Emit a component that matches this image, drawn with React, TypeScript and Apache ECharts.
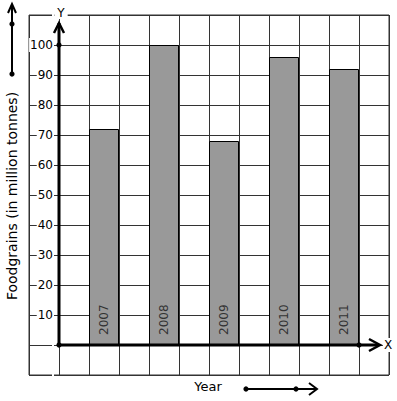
import React, { useEffect, useRef } from 'react';
import * as echarts from 'echarts';

const years = ['2007', '2008', '2009', '2010', '2011'];
const foodgrains = [72, 100, 68, 96, 92];
const yAxisTitle = 'Foodgrains (in million tonnes)';
const xAxisTitle = 'Year';
const yAxisName = 'Y';
const xAxisName = 'X';

const FONT = 'DejaVu Sans';

export default function App() {
  const ref = useRef<HTMLDivElement>(null);

  useEffect(() => {
    const chart = echarts.init(ref.current!, null, { renderer: 'svg' });
    chart.setOption({
      animation: false,
      backgroundColor: '#fff',
      grid: {
        left: 29,
        top: 15,
        width: 360,
        height: 360,
        containLabel: false,
        outerBoundsMode: 'none',
        show: true,
        borderColor: '#333',
        borderWidth: 1,
        backgroundColor: '#fff',
      },
      xAxis: {
        type: 'value',
        min: -1,
        max: 11,
        interval: 1,
        axisLine: { show: false },
        axisTick: { show: false },
        axisLabel: { show: false },
        splitLine: { show: true, lineStyle: { color: '#333', width: 1 } },
      },
      yAxis: {
        type: 'value',
        min: -10,
        max: 110,
        interval: 10,
        offset: -30,
        axisLine: { show: false, onZero: false },
        axisTick: { show: false },
        axisLabel: {
          show: true,
          margin: 5,
          fontFamily: FONT,
          fontSize: 12,
          color: '#000',
          backgroundColor: '#fff',
          padding: [1, 1, 1, 1],
          formatter: (v: number) => (v > 0 && v <= 100 ? String(v) : ''),
        },
        splitLine: { show: true, lineStyle: { color: '#333', width: 1 } },
      },
      series: [
        {
          type: 'bar',
          barWidth: 30,
          data: years.map((_, i) => [2 * i + 1.5, foodgrains[i]]),
          itemStyle: { color: '#999999', borderColor: '#000', borderWidth: 1 },
          label: {
            show: true,
            position: 'insideBottom',
            distance: 10,
            rotate: 90,
            align: 'left',
            verticalAlign: 'middle',
            fontFamily: FONT,
            fontSize: 12,
            color: '#333',
            formatter: (p: any) => years[p.dataIndex],
          },
        },
      ],
    });

    const px = (x: number, y: number) =>
      chart.convertToPixel({ gridIndex: 0 }, [x, y]) as number[];
    const [ox, oy] = px(0, 0);
    const [, y100] = px(0, 100);
    const [x10] = px(10, 0);
    const [, yTop] = px(0, 110);
    const [xRight] = px(11, 0);

    const stroke = (w: number) => ({ stroke: '#000', lineWidth: w, fill: 'none' });
    const dot = (x: number, y: number) => ({
      type: 'circle',
      shape: { cx: x, cy: y, r: 2.6 },
      style: { fill: '#000' },
      z: 101,
    });

    chart.setOption({
      graphic: [
        // Y axis
        { type: 'line', shape: { x1: ox, y1: oy, x2: ox, y2: yTop + 8 }, style: stroke(3), z: 100 },
        { type: 'polyline', shape: { points: [[ox - 5, yTop + 18], [ox, yTop + 8], [ox + 5, yTop + 18]] }, style: stroke(2.5), z: 100 },
        // X axis
        { type: 'line', shape: { x1: ox, y1: oy, x2: xRight - 10, y2: oy }, style: stroke(3), z: 100 },
        { type: 'polyline', shape: { points: [[xRight - 20, oy - 6], [xRight - 9, oy], [xRight - 20, oy + 6]] }, style: stroke(2.5), z: 100 },
        dot(ox, oy),
        dot(ox, y100),
        dot(x10, oy),
        {
          type: 'text',
          x: ox + 2,
          y: yTop - 2,
          z: 102,
          style: {
            text: yAxisName,
            fontFamily: FONT,
            fontSize: 12,
            fill: '#000',
            align: 'center',
            verticalAlign: 'middle',
            backgroundColor: '#fff',
            padding: [0, 3],
          },
        },
        {
          type: 'text',
          x: xRight - 1,
          y: oy,
          z: 102,
          style: {
            text: xAxisName,
            fontFamily: FONT,
            fontSize: 12,
            fill: '#000',
            align: 'center',
            verticalAlign: 'middle',
            backgroundColor: '#fff',
            padding: [1, 1],
          },
        },
        {
          type: 'text',
          x: 12,
          y: 196,
          rotation: Math.PI / 2,
          z: 102,
          style: {
            text: yAxisTitle,
            fontFamily: FONT,
            fontSize: 14,
            fill: '#000',
            align: 'center',
            verticalAlign: 'middle',
          },
        },
        {
          type: 'text',
          x: 208,
          y: 386,
          z: 102,
          style: {
            text: xAxisTitle,
            fontFamily: FONT,
            fontSize: 13,
            fill: '#000',
            align: 'center',
            verticalAlign: 'middle',
          },
        },
        // Year arrow
        { type: 'line', shape: { x1: 246, y1: 389, x2: 316, y2: 389 }, style: stroke(2), z: 100 },
        { type: 'polyline', shape: { points: [[309, 383], [317, 389], [309, 395]] }, style: stroke(2), z: 100 },
        dot(246, 389),
        dot(296, 389),
        // Top-left arrow
        { type: 'line', shape: { x1: 12, y1: 75, x2: 12, y2: 5 }, style: stroke(2), z: 100 },
        { type: 'polyline', shape: { points: [[8, 13], [12, 4], [16, 13]] }, style: stroke(2), z: 100 },
        dot(12, 24),
        dot(12, 74),
      ],
    });

    return () => chart.dispose();
  }, []);

  return (
    <div
      ref={ref}
      style={{ position: 'absolute', left: 0, top: 0, width: 397, height: 401 }}
    />
  );
}
